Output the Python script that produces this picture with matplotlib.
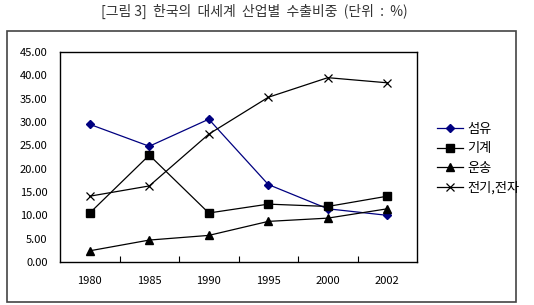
import numpy as np
import matplotlib
matplotlib.use("Agg")
from matplotlib import pyplot as plt
from matplotlib.patches import Rectangle

plt.rcParams['font.family'] = ['Noto Sans CJK KR', 'DejaVu Sans']

years = ["1980", "1985", "1990", "1995", "2000", "2002"]
textile = [29.5, 24.8, 30.6, 16.6, 11.4, 10.0]
machinery = [10.5, 22.9, 10.5, 12.4, 11.9, 14.1]
transport = [2.4, 4.7, 5.7, 8.7, 9.4, 11.4]
electronics = [14.1, 16.3, 27.4, 35.3, 39.5, 38.4]
names = ["섬유", "기계", "운송", "전기,전자"]

fig = plt.figure(figsize=(5.34, 3.05), dpi=100)
fig.patches.append(Rectangle((0.013, 0.01), 0.953, 0.888, transform=fig.transFigure,
                             fill=False, edgecolor="#444444", linewidth=1.2))
fig.text(0.477, 0.962, "[그림 3]  한국의  대세계  산업별  수출비중  (단위  :  %)",
         ha="center", va="center", fontsize=10, color="#333333")

ax = fig.add_axes([0.1124, 0.141, 0.6686, 0.6885])
x = np.arange(len(years))
ax.plot(x, textile, color="#000080", marker="D", markersize=4, linewidth=0.9, label=names[0])
ax.plot(x, machinery, color="black", marker="s", markersize=6, linewidth=0.9, label=names[1])
ax.plot(x, transport, color="black", marker="^", markersize=6, linewidth=0.9, label=names[2])
ax.plot(x, electronics, color="black", marker="x", markersize=6, markeredgewidth=0.9,
        linewidth=0.9, label=names[3])

ax.set_xlim(-0.5, 5.5)
ax.set_ylim(0, 45)
ax.set_yticks(np.arange(0, 46, 5))
ax.set_yticklabels(["%.2f" % v for v in np.arange(0, 46, 5)], fontsize=8)
ax.tick_params(axis="y", length=0, pad=9)
ax.set_xticks(np.arange(0.5, 5, 1))
ax.set_xticklabels([])
ax.tick_params(axis="x", which="major", direction="in", length=4, width=0.8)
ax.set_xticks(x, minor=True)
ax.set_xticklabels(years, minor=True, fontsize=8)
ax.tick_params(axis="x", which="minor", length=0, pad=10)
for s in ax.spines.values():
    s.set_linewidth(1.0)

fig.legend(loc="upper left", bbox_to_anchor=(0.808, 0.615), frameon=False, fontsize=9.5,
           handlelength=2.0, handletextpad=0.3, labelspacing=0.5, borderaxespad=0)

fig.savefig("out.png", dpi=100)
